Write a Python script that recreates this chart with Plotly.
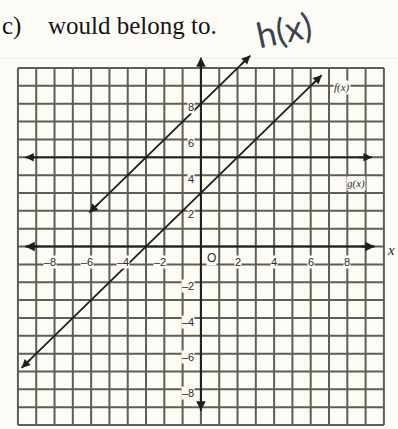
import plotly.graph_objects as go

# line endpoints (data units)
H_X = [-6.1, 2.7]
H_Y = [1.9, 10.7]
F_X = [-9.8, 6.6]
F_Y = [-6.8, 9.6]
G_X = [-9.6, 9.35]
G_Y = [5, 5]
XAXIS_X = [-9.6, 9.5]
YAXIS_Y = [-9.2, 10.6]

GRID = list(range(-10, 11))
X_TICKS = [-8, -6, -4, -2, 2, 4, 6, 8]
Y_TICKS = [8, 6, 4, 2, -2, -4, -6, -8]

INK = "#1e1e1e"
GRID_C = "#5e5e54"
PAPER = "#fcfbf5"

fig = go.Figure()

shapes = []
for v in GRID:
    shapes.append(dict(type="line", x0=v, x1=v, y0=-10, y1=10, layer="below",
                       line=dict(color=GRID_C, width=2)))
    shapes.append(dict(type="line", x0=-10, x1=10, y0=v, y1=v, layer="below",
                       line=dict(color=GRID_C, width=2)))
# faint rule under the question text
shapes.append(dict(type="line", xref="paper", yref="paper", x0=0, x1=1,
                   y0=1 - 58 / 429, y1=1 - 58 / 429, line=dict(color="#ecebe4", width=1)))


def add_line(xs, ys, width=1.8):
    fig.add_trace(go.Scatter(x=xs, y=ys, mode="lines", line=dict(color=INK, width=width),
                             hoverinfo="skip", showlegend=False))
    # arrowheads on both ends
    for i, j in ((0, 1), (1, 0)):
        dx, dy = xs[j] - xs[i], ys[j] - ys[i]
        n = (dx * dx + dy * dy) ** 0.5
        fig.add_annotation(x=xs[i], y=ys[i], ax=xs[i] + dx / n * 0.8, ay=ys[i] + dy / n * 0.8,
                           xref="x", yref="y", axref="x", ayref="y", text="",
                           showarrow=True, arrowhead=2, arrowsize=0.95, arrowwidth=width,
                           arrowcolor=INK, standoff=0)


add_line(XAXIS_X, [0, 0], 2)
add_line([0, 0], YAXIS_Y, 2)
add_line(G_X, G_Y)
add_line(F_X, F_Y)
add_line(H_X, H_Y)

lab = dict(family="Liberation Sans, Arial, sans-serif", size=11, color="#2a2a2a")
for t in X_TICKS:
    fig.add_annotation(x=t - (0.25 if t < 0 else 0), y=-0.85, text=str(t).replace("-", "–"),
                       showarrow=False, font=lab, bgcolor=PAPER, borderpad=0)
for t in Y_TICKS:
    fig.add_annotation(x=-0.3, y=t - 0.2, text=str(t).replace("-", "–"), xanchor="right",
                       showarrow=False, font=lab, bgcolor=PAPER, borderpad=0)
fig.add_annotation(x=0.6, y=-0.65, text="O", showarrow=False, bgcolor=PAPER, borderpad=0,
                   font=dict(family="Liberation Sans, Arial", size=12, color="#2a2a2a"))

small = dict(family="Liberation Serif, serif", size=11, color="#2a2a2a")
fig.add_annotation(x=7.7, y=8.9, text="<i>f(x)</i>", showarrow=False, font=small,
                   bgcolor=PAPER, borderpad=0)
fig.add_annotation(x=8.5, y=3.55, text="<i>g(x)</i>", showarrow=False, font=small,
                   bgcolor=PAPER, borderpad=0)
fig.add_annotation(x=10.05, y=-0.2, text="<i>x</i>", showarrow=False, xanchor="left",
                   font=dict(family="Liberation Serif, serif", size=15, color="#2a2a2a"))

title_font = dict(family="Liberation Serif, Times New Roman, serif", size=25, color="#151515")
fig.add_annotation(x=0, y=1 - 26 / 429, xref="paper", yref="paper",
                   xanchor="left", yanchor="middle", text="c)", showarrow=False,
                   font=title_font)
fig.add_annotation(x=46 / 398, y=1 - 26 / 429, xref="paper", yref="paper",
                   xanchor="left", yanchor="middle", text="would belong to.",
                   showarrow=False, font=title_font)
fig.add_annotation(x=284 / 398, y=1 - 29 / 429, xref="paper", yref="paper",
                   xanchor="center", yanchor="middle", borderpad=0,
                   text="h(x)", showarrow=False, textangle=-12,
                   font=dict(family="Lato, sans-serif", size=35, color="#3b4350"))

fig.update_layout(
    width=398, height=429, margin=dict(l=0, r=0, t=0, b=0),
    paper_bgcolor=PAPER, plot_bgcolor=PAPER, shapes=shapes,
    xaxis=dict(range=[-10.98, 10.77], visible=False, fixedrange=True),
    yaxis=dict(range=[-10.22, 13.81], visible=False, fixedrange=True),
)

fig.write_html("out.html", config=dict(displayModeBar=False),
               post_script="document.body.style.margin='0';")
